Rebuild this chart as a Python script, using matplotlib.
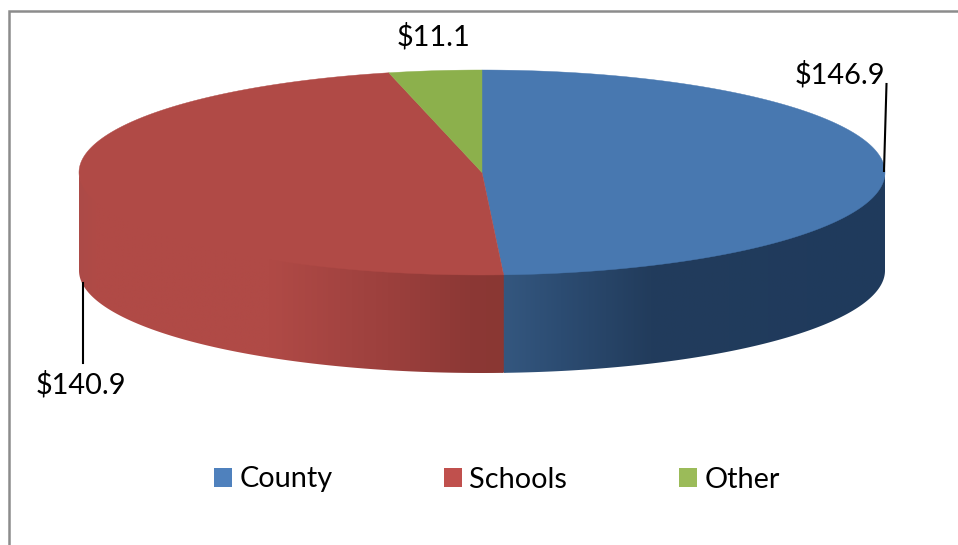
import numpy as np
import matplotlib
matplotlib.use("Agg")
import matplotlib.pyplot as plt
from matplotlib.colors import LinearSegmentedColormap
from matplotlib.patches import Polygon

categories = ["County", "Schools", "Other"]
values = [146.9, 140.9, 11.1]
value_labels = ["$146.9", "$140.9", "$11.1"]

top_colors = ["#4878B0", "#B04A46", "#8CB04C"]
legend_colors = ["#4F81BD", "#C0504D", "#9BBB59"]
frame_color = "#8C8C8C"

# Pie geometry in figure pixels
CX, CY = 482.0, 172.5
RX, RY = 403.0, 102.5
DEPTH = 98.0
FONT = 20.8

plt.rcParams["font.family"] = ["Lato", "DejaVu Sans"]
fig = plt.figure(figsize=(9.58, 5.45), dpi=100)
ax = fig.add_axes([0, 0, 1, 1])
ax.set_axis_off()


def rim(a0, a1, n=240, drop=0.0):
    """Points on the ellipse, angles clockwise from twelve o'clock in degrees."""
    t = np.radians(np.linspace(a0, a1, n))
    return np.column_stack([CX + RX * np.sin(t), CY + drop - RY * np.cos(t)])


def shaded_wall(a0, a1, stops):
    """Outer wall between two angles, shaded left to right along x."""
    # The upper boundary runs slightly under the top face so no seam shows
    top = rim(a0, a1, drop=-2.0)
    bottom = rim(a0, a1, drop=DEPTH)[::-1]
    outline = np.vstack([top, bottom])
    xmin, xmax = outline[:, 0].min(), outline[:, 0].max()
    ymin, ymax = outline[:, 1].min(), outline[:, 1].max()
    cmap = LinearSegmentedColormap.from_list(
        "wall", [((x - xmin) / (xmax - xmin), c) for x, c in stops]
    )
    shade = np.linspace(0, 1, 512)[None, :]
    img = ax.imshow(shade, cmap=cmap, extent=[xmin, xmax, ymax, ymin],
                    aspect="auto", zorder=2, interpolation="bilinear")
    clip = Polygon(outline, closed=True, transform=ax.transData,
                   facecolor="none", edgecolor="none")
    ax.add_patch(clip)
    img.set_clip_path(clip)


# Slice boundaries come straight from the values
fractions = np.array(values) / np.sum(values)
edges = np.concatenate([[0], np.cumsum(fractions) * 360])

county_end = edges[1]
split_x = CX + RX * np.sin(np.radians(county_end))

# Narrow backing strip that closes the hairline where the two walls meet
backing = np.vstack([rim(county_end - 0.3, county_end + 0.3, n=8),
                     rim(county_end - 0.3, county_end + 0.3, n=8, drop=DEPTH - 0.5)[::-1]])
ax.add_patch(Polygon(backing, closed=True, facecolor="#5F4759", edgecolor="none", zorder=1.5))

shaded_wall(90, county_end, [
    (split_x, "#34577F"), (560, "#2C4C72"), (650, "#223C5C"), (CX + RX, "#1F3A5C"),
])
shaded_wall(county_end, 270, [
    (CX - RX, "#AC4B48"), (95, "#B04A46"), (270, "#B04A46"), (340, "#A44441"),
    (400, "#9A3F3C"), (470, "#8C3835"), (split_x, "#8A3733"),
])

# Top face
for i, color in enumerate(top_colors):
    pts = np.vstack([[CX, CY], rim(edges[i], edges[i + 1])])
    ax.add_patch(Polygon(pts, closed=True, facecolor=color, edgecolor=color,
                         linewidth=0.3, zorder=3))

# Leader lines and value labels
ax.plot([886.5, 884], [84, 171], color="black", lw=1.5, zorder=4)
ax.plot([83, 83], [283, 363], color="black", lw=1.5, zorder=4)
ax.text(839.5, 74.5, value_labels[0], ha="center", va="center", fontsize=FONT, color="black")
ax.text(80.5, 385, value_labels[1], ha="center", va="center", fontsize=FONT, color="black")
ax.text(434, 37, value_labels[2], ha="center", va="center", fontsize=FONT, color="black")

# Chart frame: only the top and left edges fall inside the canvas
ax.plot([9.5, 9.5, 958], [545, 10.5, 10.5], color=frame_color, lw=1.8, zorder=1,
        solid_joinstyle="miter")

# Legend
handles = [plt.Rectangle((0, 0), 1, 1, facecolor=c, edgecolor="none") for c in legend_colors]
font_px = FONT * 100 / 72
leg = ax.legend(handles, categories, ncol=3, frameon=False, fontsize=FONT,
                loc="center", bbox_to_anchor=(497 / 958, 1 - 479.5 / 545),
                bbox_transform=fig.transFigure,
                handlelength=18 / font_px, handleheight=18 / font_px,
                handletextpad=7 / font_px, columnspacing=112 / font_px,
                borderpad=0, labelcolor="black")

ax.set_xlim(0, 958)
ax.set_ylim(545, 0)
fig.savefig("out.png", dpi=100, facecolor="white")
